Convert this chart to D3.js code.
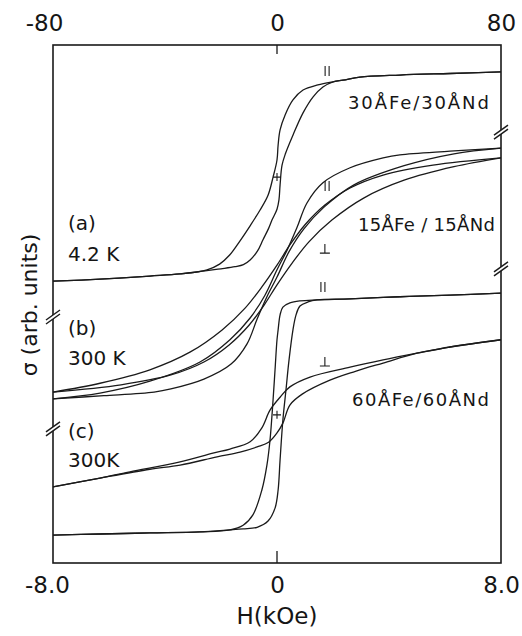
<!DOCTYPE html>
<html>
<head>
<meta charset="utf-8">
<script src="https://cdn.jsdelivr.net/npm/d3@7"></script>
<style>
  body { margin: 0; background: #fff; }
  text { font-family: "DejaVu Sans", sans-serif; fill: #151515; }
</style>
</head>
<body>
<div id="app"></div>
<script>
// field H in kOe, sigma in arbitrary units (0..100 over the frame)
const bottomTicks = [-8, 0, 8];
const bottomTickLabels = ['-8.0', '0', '8.0'];
const topTicks = [-80, 0, 80];
const topTickLabels = ['-80', '0', '80'];

// (a) 30A Fe / 30A Nd, 4.2 K, parallel loop
const a30Down = [[8,94.8],[6.18,94.5],[4.39,94.2],[2.96,93.8],[2.36,93.2],[2.0,92.9],[1.46,92.3],[0.93,91.3],[0.57,89.4],[0.29,86.5],[0.11,83.6],[0.04,80.7],[0.0,77.8],[-0.14,74.5],[-0.32,71.0],[-0.61,68.1],[-0.96,65.1],[-1.32,62.2],[-1.7,59.4],[-2.05,57.7],[-2.5,56.6],[-3.46,55.8],[-4.54,55.4],[-6.32,54.8],[-8,54.4]];
const a30Up = [[-8,54.4],[-6.32,54.8],[-4.54,55.4],[-3.46,55.8],[-2.57,56.4],[-2.0,56.8],[-1.5,57.2],[-1.2,57.6],[-0.96,58.5],[-0.7,60.2],[-0.5,62.4],[-0.3,64.6],[-0.18,66.2],[0.0,68.3],[0.07,70.1],[0.11,73.0],[0.18,76.8],[0.3,79.0],[0.57,82.6],[0.93,86.9],[1.29,90.0],[1.64,91.9],[2.0,92.9],[2.36,93.2],[2.96,93.8],[4.39,94.2],[6.18,94.5],[8,94.8]];

// (b) 15A Fe / 15A Nd, 300 K
const b15ParDown = [[8,80.1],[6.18,79.5],[4.39,78.8],[3.79,78.2],[2.61,76.3],[1.64,73.4],[1.07,69.5],[0.71,64.7],[0.36,60.4],[0,56.6],[-0.43,51.7],[-0.96,47.3],[-1.68,43.1],[-2.75,38.8],[-4.54,35.1],[-6.32,32.8],[-8,31.7]];
const b15ParUp = [[-8,31.7],[-6.18,32.3],[-4.39,33.0],[-3.79,33.6],[-2.61,35.5],[-1.64,38.4],[-1.07,42.3],[-0.71,47.1],[-0.36,51.4],[0,55.2],[0.43,60.1],[0.96,64.5],[1.68,68.7],[2.75,73.0],[4.54,76.7],[6.32,79.0],[8,80.1]];
const b15PerpDown = [[8,78.2],[5.57,76.8],[3.79,74.9],[2.61,72.4],[1.71,69.1],[1.0,65.3],[0.46,61.4],[0,57.5],[-0.54,53.3],[-1.14,49.2],[-1.96,45.0],[-3.11,40.7],[-4.54,37.3],[-6.32,34.7],[-8,33.0]];
const b15PerpUp = [[-8,33.0],[-5.57,34.4],[-3.79,36.3],[-2.61,38.8],[-1.71,42.1],[-1.0,45.9],[-0.46,49.8],[0,53.7],[0.54,57.9],[1.14,62.0],[1.96,66.2],[3.11,70.5],[4.54,73.9],[6.32,76.5],[8,78.2]];

// (c) 60A Fe / 60A Nd, 300 K
const c60ParDown = [[8,52.1],[6.18,51.7],[4.39,51.4],[2.61,51.0],[1.43,50.8],[0.82,50.6],[0.46,50.2],[0.21,49.4],[0.11,47.9],[0.04,45.0],[0,43.1],[-0.07,37.3],[-0.14,31.5],[-0.25,23.7],[-0.36,18.9],[-0.54,14.1],[-0.86,9.3],[-1.21,7.3],[-1.68,6.4],[-2.75,6.0],[-4.54,5.8],[-6.32,5.6],[-8,5.4]];
const c60ParUp = [[-8,5.4],[-6.32,5.6],[-4.54,5.8],[-2.75,6.0],[-1.68,6.4],[-1.21,6.6],[-0.71,6.9],[-0.32,8.1],[-0.07,10.6],[0.04,14.1],[0.11,19.9],[0.21,27.6],[0.32,33.4],[0.43,39.2],[0.57,45.0],[0.68,47.9],[0.82,49.6],[1.11,50.4],[1.43,50.8],[2.61,51.0],[4.39,51.4],[6.18,51.7],[8,52.1]];
const c60PerpDown = [[8,43.1],[6.18,41.7],[5.0,40.5],[3.79,39.2],[2.61,37.8],[1.18,35.9],[0.46,34.0],[0.11,32.0],[-0.25,29.5],[-0.54,26.1],[-0.96,23.4],[-1.68,22.0],[-2.29,21.2],[-3.46,19.5],[-5.25,17.6],[-6.32,16.4],[-8,14.7]];
const c60PerpUp = [[-8,14.7],[-6.32,16.4],[-4.54,18.1],[-3.46,18.9],[-2.14,20.5],[-1.32,21.4],[-0.71,22.4],[-0.3,23.3],[0,25.1],[0.21,27.0],[0.46,30.5],[0.9,32.6],[1.89,35.3],[2.8,37.0],[3.79,38.6],[5.0,40.5],[6.18,41.7],[8,43.1]];

const curves = [a30Down, a30Up, b15ParDown, b15ParUp, b15PerpDown, b15PerpUp,
  c60ParDown, c60ParUp, c60PerpDown, c60PerpUp];

// small markers on the curves: [H, sigma, kind]
const markers = [[1.79, 95.0, 'par'], [0.0, 74.5, 'plus'], [1.79, 72.8, 'par'], [1.71, 60.6, 'perp'],
  [1.64, 53.3, 'par'], [1.71, 38.8, 'perp'], [0.0, 28.6, 'plus']];
const breaksLeft = [47.3, 25.7];
const breaksRight = [83.0, 56.6];

const width = 522;
const height = 636;
const frameL = 53, frameR = 501, frameT = 45, frameB = 563;
const ink = '#1a1a1a';

const svg = d3.select('#app').append('svg')
  .attr('width', width)
  .attr('height', height);

const x = d3.scaleLinear().domain([-8, 8]).range([frameL, frameR]);
const xTop = d3.scaleLinear().domain([-80, 80]).range([frameL, frameR]);
const y = d3.scaleLinear().domain([0, 100]).range([frameB, frameT]);

const line = d3.line()
  .x(d => x(d[0]))
  .y(d => y(d[1]))
  .curve(d3.curveCatmullRom.alpha(0.5));

svg.selectAll('path.loop')
  .data(curves)
  .enter().append('path')
  .attr('class', 'loop')
  .attr('d', line)
  .attr('style', `fill: none; stroke: ${ink}; stroke-width: 1.3px`);

// frame
svg.append('rect')
  .attr('x', frameL).attr('y', frameT)
  .attr('width', frameR - frameL).attr('height', frameB - frameT)
  .attr('style', `fill: none; stroke: ${ink}; stroke-width: 1.6px`);

// centre ticks
svg.append('line').attr('x1', x(0)).attr('x2', x(0)).attr('y1', frameT).attr('y2', frameT + 9)
  .attr('style', `stroke: ${ink}; stroke-width: 1.3px`);
svg.append('line').attr('x1', x(0)).attr('x2', x(0)).attr('y1', frameB).attr('y2', frameB - 12)
  .attr('style', `stroke: ${ink}; stroke-width: 1.3px`);

const xAxis = d3.axisBottom(x).tickValues(bottomTicks).tickSize(0).tickPadding(14)
  .tickFormat((d, i) => bottomTickLabels[i]);
const gx = svg.append('g').attr('transform', `translate(0, ${frameB})`).call(xAxis);
gx.select('.domain').remove();
gx.selectAll('text').attr('style', 'font-family: "DejaVu Sans"; font-size: 23px; fill: #151515');
gx.selectAll('.tick').filter(d => d < 0).select('text').attr('dx', -6);

const xAxisTop = d3.axisTop(xTop).tickValues(topTicks).tickSize(0).tickPadding(14)
  .tickFormat((d, i) => topTickLabels[i]);
const gt = svg.append('g').attr('transform', `translate(0, ${frameT})`).call(xAxisTop);
gt.select('.domain').remove();
gt.selectAll('text').attr('style', 'font-family: "DejaVu Sans"; font-size: 23px; fill: #151515');
gt.selectAll('.tick').filter(d => d < 0).select('text').attr('dx', -9);

svg.append('text')
  .attr('x', x(0)).attr('y', 624)
  .attr('text-anchor', 'middle')
  .attr('font-size', 23)
  .text('H(kOe)');

svg.append('text')
  .attr('transform', `translate(37, 305) rotate(-90)`)
  .attr('text-anchor', 'middle')
  .attr('font-size', 22)
  .text('\u03C3 (arb. units)');

// axis breaks
const breakMark = (xp, yp) => {
  const g = svg.append('g').attr('transform', `translate(${xp}, ${yp})`);
  g.append('path').attr('d', 'M-7,2 L7,-8 L7,-4 L-7,6 Z').attr('fill', '#fff');
  g.append('line').attr('x1', -7).attr('y1', 2).attr('x2', 7).attr('y2', -8)
    .attr('style', `stroke: ${ink}; stroke-width: 1.4px`);
  g.append('line').attr('x1', -7).attr('y1', 6).attr('x2', 7).attr('y2', -4)
    .attr('style', `stroke: ${ink}; stroke-width: 1.4px`);
};
breaksLeft.forEach(v => breakMark(frameL, y(v)));
breaksRight.forEach(v => breakMark(frameR, y(v)));

// parallel / perpendicular / zero markers drawn as small strokes
const markerPath = {
  par: 'M-2,-5 L-2,5 M2,-5 L2,5',
  perp: 'M0,-5 L0,4 M-5,4 L5,4',
  plus: 'M-4,0 L4,0 M0,-4 L0,4'
};
svg.selectAll('path.marker')
  .data(markers)
  .enter().append('path')
  .attr('class', 'marker')
  .attr('transform', d => `translate(${x(d[0])}, ${y(d[1])})`)
  .attr('d', d => markerPath[d[2]])
  .attr('style', `fill: none; stroke: ${ink}; stroke-width: 1.1px`);

// sample labels
const labels = [
  ['30\u00C5Fe/30\u00C5Nd', 348, 109, 1.9],
  ['15\u00C5Fe / 15\u00C5Nd', 358, 231, 0.3],
  ['60\u00C5Fe/60\u00C5Nd', 352, 406, 1.5]
];
svg.selectAll('text.sample')
  .data(labels)
  .enter().append('text')
  .attr('class', 'sample')
  .attr('x', d => d[1]).attr('y', d => d[2])
  .attr('font-size', 18)
  .attr('letter-spacing', d => d[3])
  .text(d => d[0]);

const panelLabels = [
  ['(a)', 68, 230], ['4.2 K', 68, 261],
  ['(b)', 68, 335], ['300 K', 68, 365],
  ['(c)', 68, 438], ['300K', 68, 467]
];
svg.selectAll('text.panel')
  .data(panelLabels)
  .enter().append('text')
  .attr('class', 'panel')
  .attr('x', d => d[1]).attr('y', d => d[2])
  .attr('font-size', 20)
  .text(d => d[0]);
</script>
</body>
</html>
